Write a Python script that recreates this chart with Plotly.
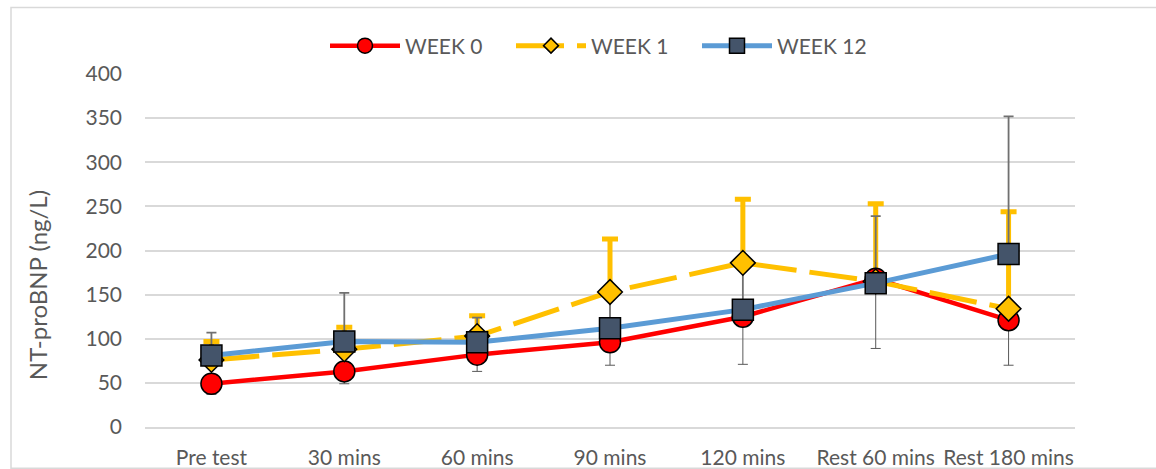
import plotly.graph_objects as go

# Time points of the exercise protocol
categories = ["Pre test", "30 mins", "60 mins", "90 mins", "120 mins",
              "Rest 60 mins", "Rest 180 mins"]

# NT-proBNP means (ng/L) for each visit
week0 = [49, 63, 82, 96, 125, 168, 121]
week1 = [76, 88, 103, 153, 186, 165, 134]
week12 = [81, 97, 96, 112, 133, 163, 196]

# Error bars: Week 0 shown downward, Week 1 and Week 12 shown upward
week0_err_minus = [12, 14, 19, 26, 54, 79, 51]
week1_err_plus = [21, 25, 23, 60, 72, 88, 110]
week12_err_plus = [26, 55, 28, 40, 45, 76, 156]
no_err = [0, 0, 0, 0, 0, 0, 0]

y_ticks = [0, 50, 100, 150, 200, 250, 300, 350, 400]

FONT = "Lato"
TEXT = "#595959"
GRID = "#d9d9d9"

RED = "#FF0000"
GOLD = "#FFC000"
BLUE = "#5B9BD5"
SLATE = "#44546A"

series = [
    dict(name="WEEK 0", y=week0, color=RED, fill=RED, symbol="circle",
         size=21, legend_size=15, width=4.5, dash="solid"),
    dict(name="WEEK 1", y=week1, color=GOLD, fill=GOLD, symbol="diamond",
         size=19, legend_size=11.5, width=5, dash="48px,13px"),
    dict(name="WEEK 12", y=week12, color=BLUE, fill=SLATE, symbol="square",
         size=21, legend_size=15, width=5, dash="solid"),
]

fig = go.Figure()

# Error bars first so every line and marker sits on top of them
fig.add_trace(go.Scatter(
    x=categories, y=week0, mode="markers",
    marker=dict(size=1, color="rgba(0,0,0,0)"),
    error_y=dict(type="data", symmetric=False, array=no_err,
                 arrayminus=week0_err_minus, color="#595959",
                 thickness=1, width=5),
    showlegend=False, hoverinfo="skip"))
fig.add_trace(go.Scatter(
    x=categories, y=week1, mode="markers",
    marker=dict(size=1, color="rgba(0,0,0,0)"),
    error_y=dict(type="data", symmetric=False, array=week1_err_plus,
                 arrayminus=no_err, color=GOLD, thickness=5, width=8),
    showlegend=False, hoverinfo="skip"))
fig.add_trace(go.Scatter(
    x=categories, y=week12, mode="markers",
    marker=dict(size=1, color="rgba(0,0,0,0)"),
    error_y=dict(type="data", symmetric=False, array=week12_err_plus,
                 arrayminus=no_err, color="#707070", thickness=1.8, width=5),
    showlegend=False, hoverinfo="skip"))

# The three series, each paired with a legend-only entry using smaller symbols
for s in series:
    fig.add_trace(go.Scatter(
        x=categories, y=s["y"], mode="lines+markers", name=s["name"],
        legendgroup=s["name"], showlegend=False,
        line=dict(color=s["color"], width=s["width"], dash=s["dash"]),
        marker=dict(symbol=s["symbol"], size=s["size"], color=s["fill"],
                    line=dict(color="black", width=1.5))))
for s in series:
    fig.add_trace(go.Scatter(
        x=[None], y=[None], mode="lines+markers", name=s["name"],
        legendgroup=s["name"], showlegend=True,
        line=dict(color=s["color"], width=s["width"], dash=s["dash"]),
        marker=dict(symbol=s["symbol"], size=s["legend_size"],
                    color=s["fill"], line=dict(color="black", width=1.5))))

# Plot area spans 930 x 352.7 px; these helpers convert pixel spots to paper
PL, PR, PT, PB = 145, 1075, 74, 426.7


def px_x(v):
    return (v - PL) / (PR - PL)


def px_y(v):
    return (PB - v) / (PB - PT)


fig.update_layout(
    width=1156, height=469,
    margin=dict(l=PL, r=1156 - PR, t=PT, b=469 - PB, pad=0),
    paper_bgcolor="white", plot_bgcolor="white",
    font=dict(family=FONT, size=21, color=TEXT),
    showlegend=True,
    legend=dict(orientation="h", x=px_x(604), y=px_y(46),
                xanchor="center", yanchor="middle",
                font=dict(family=FONT, size=21, color=TEXT),
                itemwidth=70, itemsizing="trace", entrywidth=101,
                bgcolor="rgba(0,0,0,0)", traceorder="normal"),
    xaxis=dict(type="category", range=[-0.5, 6.5], showgrid=False,
               showline=True, linecolor=GRID, linewidth=1.5,
               ticks="", zeroline=False, ticklabelstandoff=11,
               automargin=False,
               tickfont=dict(family=FONT, size=21, color=TEXT)),
    yaxis=dict(range=[0, 400], tickvals=y_ticks, showgrid=True,
               gridcolor=GRID, gridwidth=1.5, zeroline=False,
               showline=False, ticks="", ticklabelstandoff=22,
               automargin=False,
               tickfont=dict(family=FONT, size=21, color=TEXT)),
    annotations=[dict(text="NT-proBNP (ng/L)", textangle=-90,
                      xref="paper", yref="paper",
                      x=px_x(37), y=px_y(285),
                      xanchor="center", yanchor="middle", showarrow=False,
                      font=dict(family=FONT, size=24, color=TEXT))],
    shapes=[dict(type="rect", xref="paper", yref="paper",
                 x0=px_x(11), x1=px_x(1170), y0=px_y(468), y1=px_y(7.5),
                 line=dict(color=GRID, width=1.5), fillcolor="rgba(0,0,0,0)",
                 layer="below")],
)

fig.write_html("out.html")
